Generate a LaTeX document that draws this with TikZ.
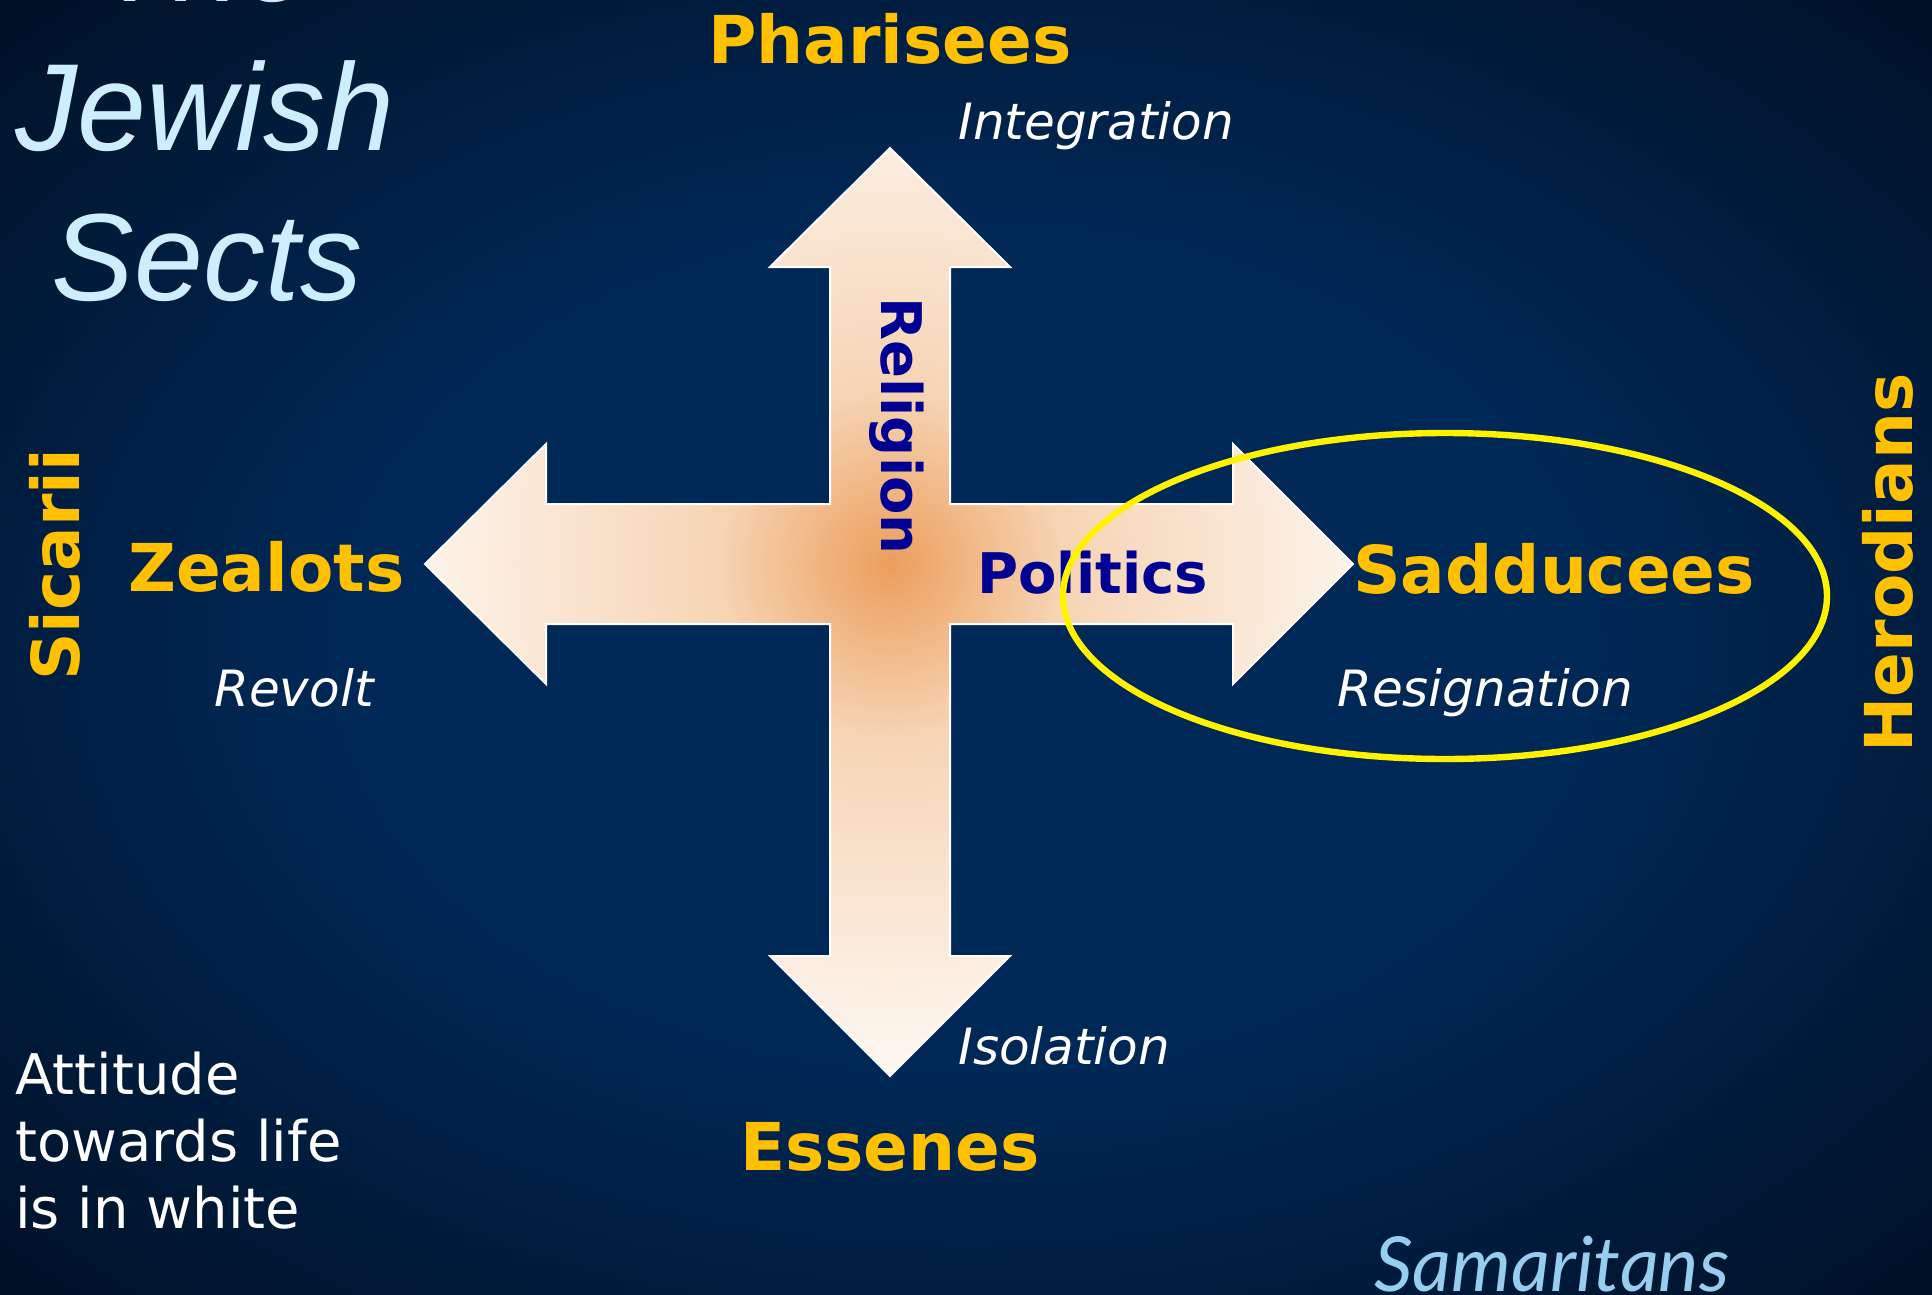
\documentclass[tikz,border=0pt]{standalone}
\usepackage{fontspec}
\setmainfont{DejaVu Sans}
\newfontfamily\titlefont{Liberation Sans}
\newfontfamily\samfont{Lato}
\usepackage{tikz}

\definecolor{sectgold}{RGB}{255,192,0}
\definecolor{axisblue}{RGB}{0,0,145}
\definecolor{titleblue}{RGB}{204,238,255}
\definecolor{samblue}{RGB}{150,206,240}
\definecolor{bgcenter}{RGB}{0,40,86}
\definecolor{bgedge}{RGB}{0,6,16}
\definecolor{crossorange}{RGB}{236,158,92}
\definecolor{crosspeach}{RGB}{246,212,180}
\pgfdeclareradialshading{bgglow}{\pgfpoint{0bp}{0bp}}{color(0bp)=(bgcenter); color(16bp)=(bgcenter); color(44bp)=(bgedge); color(50bp)=(bgedge)}
\pgfdeclareradialshading{crossglow}{\pgfpoint{0bp}{0bp}}{color(0bp)=(crossorange); color(8bp)=(crosspeach); color(27bp)=(white); color(50bp)=(white)}

\begin{document}
\begin{tikzpicture}[x=0.5pt, y=-0.5pt,
        sect/.style={text=sectgold, inner sep=0pt, font=\bfseries\fontsize{33}{40}\selectfont},
        attitude/.style={text=white, inner sep=0pt, font=\itshape\fontsize{25}{30}\selectfont},
        axislabel/.style={text=axisblue, inner sep=0pt, font=\bfseries\fontsize{28}{34}\selectfont},
        titletext/.style={text=titleblue, inner sep=0pt, font=\titlefont\itshape\fontsize{62}{75}\selectfont},
        notetext/.style={text=white, inner sep=0pt, align=left, font=\fontsize{28}{33.5}\selectfont}]
    \useasboundingbox (0,0) rectangle (1932,1295);
    \clip (0,0) rectangle (1932,1295);
    \shade[shading=bgglow] (0,0) rectangle (1932,1295);

    % the cross of arrows
    \path[save path=\crossshape] (830,267) -- (770,267) -- (890,148) -- (1010,267) -- (950,267)
        -- (950,504) -- (1233,504) -- (1233,444) -- (1353,564) -- (1233,684) -- (1233,624)
        -- (950,624) -- (950,956) -- (1010,956) -- (890,1076) -- (770,956) -- (830,956)
        -- (830,624) -- (546,624) -- (546,684) -- (425,564) -- (546,444) -- (546,504)
        -- (830,504) -- cycle;
    \begin{scope}
        \clip[use path=\crossshape];
        \shade[shading=crossglow] (890,564) circle[radius=540];
    \end{scope}
    \draw[white, line width=1pt, use path=\crossshape];

    \node[axislabel, anchor=base west] (politics) at (977,593) {Politics};
    \node[axislabel, rotate=-90, anchor=base] (religion) at (881,426) {Religion};

    % sects
    \node[sect, anchor=base] (pharisees) at (890,64) {Pharisees};
    \node[sect, anchor=base west] (zealots) at (128,591) {Zealots};
    \node[sect, anchor=base west] (sadducees) at (1353,593) {Sadducees};
    \node[sect, anchor=base] (essenes) at (890,1170) {Essenes};
    \node[sect, rotate=90, anchor=base] (sicarii) at (79,565) {Sicarii};
    \node[sect, rotate=90, anchor=base] (herodians) at (1912,563) {Herodians};

    \node[attitude, anchor=base west] (integration) at (958,140) {Integration};
    \node[attitude, anchor=base west] (revolt) at (214,706) {Revolt};
    \node[attitude, anchor=base west] (resignation) at (1337,706) {Resignation};
    \node[attitude, anchor=base west] (isolation) at (958,1064) {Isolation};

    \draw[yellow, line width=3.2pt] (1445,596) ellipse[x radius=382, y radius=163];

    % title and notes
    \node[titletext, anchor=base] (the) at (205,2) {The};
    \node[titletext, anchor=base] (jewish) at (205,150) {Jewish};
    \node[titletext, anchor=base] (sects) at (207,300) {Sects};
    \node[notetext, anchor=north west] (note) at (15,1052) {Attitude\\towards life\\is in white};
    \node[anchor=base west, inner sep=0pt, text=samblue, font=\samfont\itshape\fontsize{38}{45}\selectfont] (samaritans) at (1374,1291) {Samaritans};
\end{tikzpicture}
\end{document}
